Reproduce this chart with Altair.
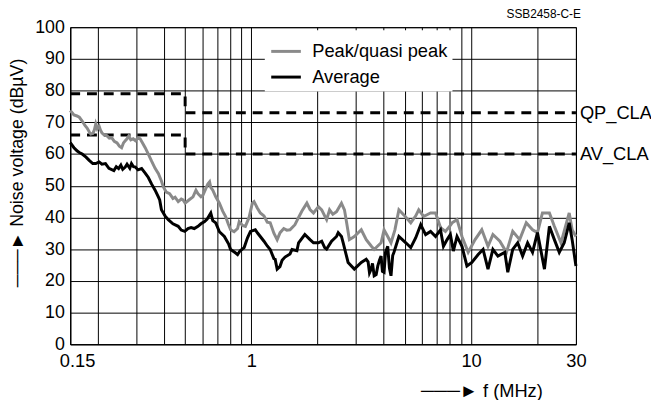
import altair as alt
import pandas as pd

FONT = "Liberation Sans"

# ---- data ----
peak_f = [0.150, 0.153, 0.156, 0.161, 0.165, 0.170, 0.175, 0.179, 0.183, 0.186,
          0.190, 0.193, 0.196, 0.199, 0.203, 0.206, 0.209, 0.214, 0.220, 0.226,
          0.232, 0.238, 0.245, 0.251, 0.257, 0.262, 0.267, 0.272, 0.277, 0.283,
          0.290, 0.297, 0.304, 0.312, 0.320, 0.329, 0.340, 0.351, 0.365, 0.378,
          0.390, 0.398, 0.410, 0.425, 0.440, 0.450, 0.465, 0.480, 0.489, 0.500,
          0.520, 0.543, 0.560, 0.572, 0.590, 0.602, 0.620, 0.634, 0.646, 0.654,
          0.668, 0.689, 0.716, 0.741, 0.764, 0.785, 0.805, 0.835, 0.866, 0.881,
          0.912, 0.940, 0.977, 1.011, 1.029, 1.065, 1.099, 1.142, 1.182, 1.219,
          1.267, 1.311, 1.352, 1.405, 1.450, 1.500, 1.580, 1.641, 1.700, 1.790,
          1.850, 1.919, 2.021, 2.091, 2.157, 2.202, 2.271, 2.350, 2.442, 2.572,
          2.654, 2.720, 2.794, 2.943, 3.165, 3.334, 3.512, 3.623, 3.895, 4.019,
          4.176, 4.322, 4.500, 4.695, 4.944, 5.316, 5.601, 5.778, 6.086, 6.543,
          6.893, 7.259, 7.644, 8.051, 8.195, 8.631, 9.090, 9.704, 10.43, 11.19,
          11.94, 12.57, 13.52, 14.49, 15.47, 16.64, 17.83, 19.04, 20.05, 21.12,
          22.72, 23.93, 25.65, 27.96, 28.83, 30.0]
peak_v = [73.7, 73.0, 72.3, 72.0, 71.6, 70.4, 69.0, 68.2, 67.0, 66.3,
          66.5, 67.5, 69.5, 68.0, 68.8, 67.5, 66.7, 66.0, 65.8, 65.0,
          65.1, 64.0, 63.5, 62.5, 62.0, 63.5, 64.2, 64.8, 65.7, 64.5,
          64.8, 64.2, 65.0, 64.8, 63.5, 62.0, 60.0, 57.9, 55.5, 53.8,
          51.5, 49.6, 48.0, 47.5, 46.0, 46.4, 45.0, 45.8, 45.5, 44.5,
          45.5, 46.5, 48.6, 47.5, 46.5, 47.0, 49.0, 50.5, 51.2, 49.5,
          48.6, 46.5, 44.5, 42.0, 40.3, 38.0, 36.1, 35.5, 36.5, 38.7,
          37.5, 37.2, 40.0, 44.5, 45.0, 43.0, 41.4, 40.5, 38.5, 38.3,
          35.0, 33.0, 35.2, 36.5, 36.0, 36.1, 37.7, 40.0, 42.0, 44.5,
          42.5, 41.4, 43.4, 42.4, 40.5, 39.3, 42.4, 41.0, 41.8, 44.5,
          42.4, 38.0, 33.0, 34.0, 36.1, 33.0, 31.0, 29.9, 32.0, 36.1,
          34.0, 32.0, 36.0, 42.4, 40.8, 38.3, 40.5, 42.4, 40.3, 41.4,
          41.4, 36.8, 35.6, 37.5, 38.3, 39.3, 34.0, 29.0, 33.0, 36.1,
          30.9, 34.6, 32.5, 29.0, 35.6, 33.0, 38.3, 36.1, 35.2, 41.4,
          41.4, 37.2, 32.0, 41.4, 36.1, 34.0]

avg_f = [0.150, 0.156, 0.161, 0.165, 0.170, 0.177, 0.183, 0.190, 0.196, 0.203,
         0.209, 0.217, 0.225, 0.237, 0.243, 0.249, 0.255, 0.260, 0.267, 0.272,
         0.280, 0.285, 0.291, 0.297, 0.305, 0.317, 0.329, 0.340, 0.352, 0.365,
         0.378, 0.383, 0.390, 0.405, 0.419, 0.440, 0.465, 0.480, 0.498, 0.515,
         0.532, 0.550, 0.572, 0.590, 0.613, 0.630, 0.654, 0.668, 0.689, 0.716,
         0.754, 0.790, 0.805, 0.840, 0.866, 0.890, 0.928, 0.960, 0.991, 1.043,
         1.070, 1.142, 1.182, 1.219, 1.267, 1.284, 1.311, 1.350, 1.381, 1.424,
         1.500, 1.532, 1.613, 1.641, 1.752, 1.850, 1.919, 2.021, 2.091, 2.157,
         2.202, 2.319, 2.442, 2.486, 2.572, 2.619, 2.757, 2.943, 3.165, 3.334,
         3.40, 3.45, 3.512, 3.56, 3.623, 3.70, 3.764, 3.83, 3.895, 3.95,
         4.019, 4.08, 4.176, 4.25, 4.322, 4.40, 4.458, 4.695, 5.048,
         5.316, 5.601, 5.900, 6.213, 6.543, 6.893, 7.259, 7.487, 7.781, 8.051,
         8.305, 8.631, 9.090, 9.575, 10.08, 10.77, 11.34, 11.94, 12.57, 13.25,
         14.24, 14.69, 15.47, 16.30, 17.16, 18.08, 19.04, 20.05, 21.57, 22.72,
         23.93, 25.20, 26.54, 27.96, 28.83, 30.0]
avg_v = [63.6, 62.0, 61.0, 60.5, 60.0, 59.0, 58.0, 57.0, 57.0, 57.5,
         56.8, 57.0, 55.5, 54.8, 56.0, 55.4, 56.5, 55.2, 55.9, 56.8,
         55.5, 57.0, 56.0, 55.9, 55.0, 55.4, 54.0, 52.6, 50.5, 48.6,
         46.4, 45.5, 42.4, 40.5, 39.3, 38.0, 37.2, 36.0, 35.6, 36.5,
         36.8, 36.5, 37.2, 38.0, 38.7, 39.5, 41.4, 39.0, 38.3, 35.5,
         34.0, 31.5, 29.9, 29.0, 28.3, 29.5, 30.5, 33.5, 35.6, 36.1,
         35.0, 32.5, 31.0, 29.9, 27.0, 26.8, 23.7, 24.5, 26.5, 27.5,
         28.5, 29.9, 29.5, 32.0, 34.6, 33.0, 32.0, 32.0, 32.5, 30.5,
         30.0, 32.5, 34.0, 35.2, 34.0, 32.0, 25.8, 23.7, 25.8, 26.8,
         26.0, 22.5, 23.7, 25.5, 21.6, 22.0, 24.7, 26.5, 27.8, 23.0,
         22.7, 29.0, 30.9, 24.0, 21.6, 28.0, 29.0, 34.0, 32.0,
         30.5, 33.6, 37.7, 34.6, 35.6, 34.0, 36.1, 30.9, 33.0, 34.6,
         29.4, 34.0, 30.9, 24.7, 25.8, 28.3, 29.9, 23.7, 29.9, 27.8,
         29.0, 22.7, 29.9, 32.0, 27.8, 32.0, 29.0, 35.2, 23.7, 37.2,
         33.0, 29.0, 32.0, 38.3, 33.0, 24.7]

qp_f = [0.15, 0.5, 0.5, 30]
qp_v = [79, 79, 73, 73]
av_f = [0.15, 0.5, 0.5, 30]
av_v = [66, 66, 60, 60]

series_names = ["Peak/quasi peak", "Average"]
series_colors = ["#8a8a8a", "#000000"]
limit_labels = ["QP_CLA", "AV_CLA"]
limit_label_v = [73, 60]

x_grid = [0.15, 0.2, 0.3, 0.4, 0.5, 0.6, 0.7, 0.8, 0.9, 1,
          2, 3, 4, 5, 6, 7, 8, 9, 10, 20, 30]
y_grid = [0, 10, 20, 30, 40, 50, 60, 70, 80, 90, 100]

# ---- tables ----
peak_df = pd.DataFrame({"f": peak_f, "v": peak_v, "series": series_names[0]})
avg_df = pd.DataFrame({"f": avg_f, "v": avg_v, "series": series_names[1]})
lim_df = pd.concat([
    pd.DataFrame({"f": qp_f, "v": qp_v, "lim": "QP", "i": range(len(qp_f))}),
    pd.DataFrame({"f": av_f, "v": av_v, "lim": "AV", "i": range(len(av_f))}),
])
lab_df = pd.DataFrame({"f": [30, 30], "v": limit_label_v, "t": limit_labels})

label_expr = ("datum.value == 0.15 ? '0.15' : (datum.value == 1 ? '1' : "
              "(datum.value == 10 ? '10' : (datum.value == 30 ? '30' : '')))")

x_enc = alt.X(
    "f:Q",
    scale=alt.Scale(type="log", domain=[0.15, 30], nice=False),
    axis=alt.Axis(
        values=x_grid, labelExpr=label_expr, labelOverlap=False,
        labelFlush=False, ticks=False, labelPadding=8, labelFontSize=18.5,
        labelOffset={"condition": {"test": "datum.value < 0.18", "value": 7}, "value": 0},
        title="───►  f (MHz)", titleFontSize=18.5, titleFontWeight="normal",
        titleX=478, titleY=47, titleAlign="right", titleBaseline="middle",
        titleAngle=0,
    ),
)
y_enc = alt.Y(
    "v:Q",
    scale=alt.Scale(domain=[0, 100], nice=False),
    axis=alt.Axis(
        values=y_grid, ticks=False, labelPadding=6, labelFontSize=18,
        labelOverlap=False, labelFlush=False, labelBound=False,
        title="───►  Noise voltage (dBµV)", titleFontSize=18,
        titleFontWeight="normal", titleX=-53, titleY=147,
        titleAlign="center", titleBaseline="middle", titleAngle=270,
    ),
)

color_scale = alt.Scale(domain=series_names, range=series_colors)
legend = alt.Legend(
    orient="none", legendX=197, legendY=3, fillColor="white", padding=5,
    rowPadding=-5, labelOffset=10, symbolType="stroke", symbolSize=900,
    symbolStrokeWidth=3, labelFontSize=18.5, labelFont=FONT, title=None,
    labelLimit=400, labelColor="black",
)
color_enc = alt.Color("series:N", scale=color_scale, legend=legend)

limits = alt.Chart(lim_df).mark_line(
    color="black", strokeWidth=3, strokeDash=[10, 7]
).encode(x=x_enc, y=y_enc, detail="lim:N", order="i:Q")

peak = alt.Chart(peak_df).mark_line(strokeWidth=3).encode(
    x=x_enc, y=y_enc, color=color_enc,
)
avg = alt.Chart(avg_df).mark_line(strokeWidth=3).encode(
    x=x_enc, y=y_enc, color=color_enc,
)
labels = alt.Chart(lab_df).mark_text(
    align="left", baseline="middle", dx=4, fontSize=18.5, font=FONT, color="black"
).encode(x=x_enc, y=y_enc, text="t:N")

chart = alt.layer(limits, peak, avg, labels).properties(
    width=512, height=321,
    autosize=alt.AutoSizeParams(type="none"),
    padding={"left": 63, "top": 17, "right": 76, "bottom": 54},
    title=alt.Title("SSB2458-C-E", anchor="end", fontSize=12,
                    fontWeight="normal", font=FONT, offset=7, dy=10, dx=5,
                    frame="group", color="black"),
).configure(font=FONT).configure_axis(
    gridColor="black", gridOpacity=1, gridWidth=1,
    domainColor="black", domainWidth=1, labelColor="black",
    titleColor="black", labelFont=FONT, titleFont=FONT,
).configure_axisY(labelOverlap=False).configure_view(stroke="black", strokeWidth=1)

chart.save("out.html", embed_options={"renderer": "svg", "actions": False})
